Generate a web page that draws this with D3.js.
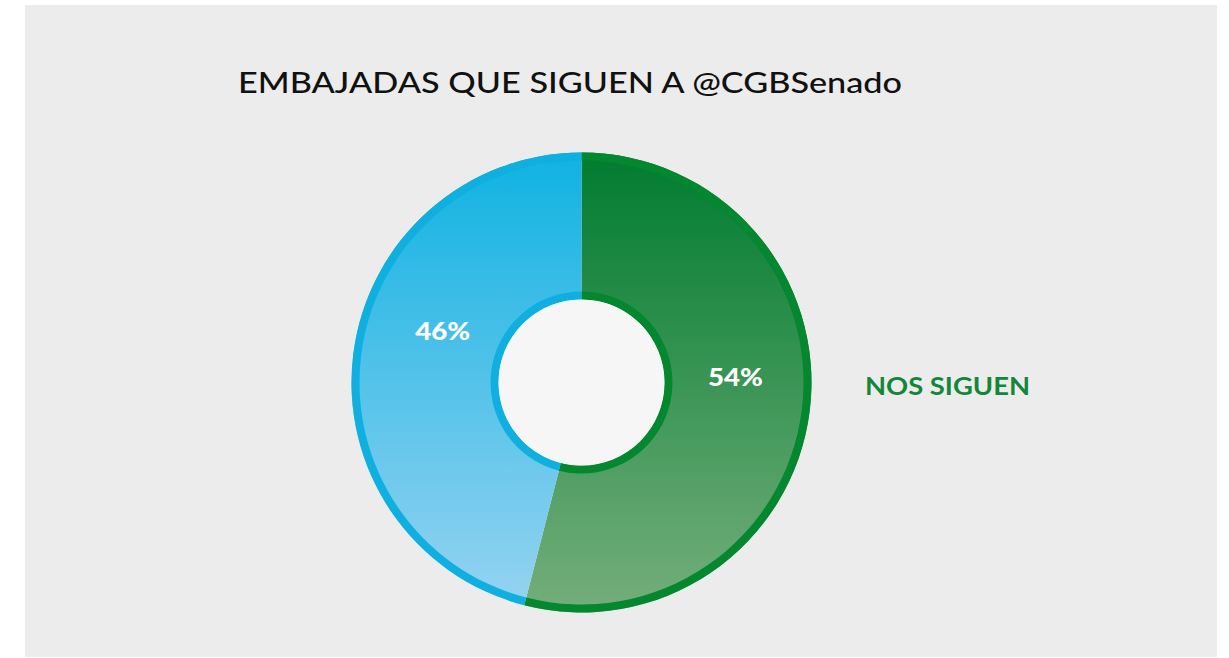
<!DOCTYPE html>
<html>
<head>
<meta charset="utf-8">
<script src="https://cdn.jsdelivr.net/npm/d3@7"></script>
<style>
  html, body { margin: 0; padding: 0; background: #ffffff; }
  svg { display: block; }
</style>
</head>
<body>
<svg id="chart" width="1229" height="658"></svg>
<script>
// ---- data ----
const categories = ["NO NOS SIGUEN", "NOS SIGUEN"];
const values = [46, 54];
const valueLabels = ["46%", "54%"];
const legendLabels = ["NOS SIGUEN"];
const titleText = "EMBAJADAS QUE SIGUEN A @CGBSenado";

// ---- styles ----
const cx = 581.5, cy = 382.5;
const R = 230, Rin = 83, band = 8;
const topColors = ["#10b2e2", "#007c30"];
const bottomColors = ["#98d3f1", "#75ae7b"];
const borderColors = ["#0fb0e0", "#03872f"];
const labelAngleNudge = [0.23, -0.16]; // radians
const labelRadius = [148, 154];

const svg = d3.select("#chart");

// panel
svg.append("rect").attr("x", 25).attr("y", 5).attr("width", 1192).attr("height", 652)
  .attr("fill", "#ececec");

const defs = svg.append("defs");
categories.forEach((c, i) => {
  const gl = defs.append("linearGradient").attr("id", "grad" + i)
    .attr("gradientUnits", "userSpaceOnUse")
    .attr("x1", 0).attr("y1", -R).attr("x2", 0).attr("y2", R);
  gl.append("stop").attr("offset", "0%").attr("stop-color", topColors[i]);
  gl.append("stop").attr("offset", "100%").attr("stop-color", bottomColors[i]);
});

// title
svg.append("text").attr("x", 238).attr("y", 93)
  .attr("font-family", "Lato, 'Open Sans', sans-serif")
  .attr("font-size", 29).attr("font-weight", 500)
  .attr("fill", "#111")
  .attr("textLength", 664).attr("lengthAdjust", "spacingAndGlyphs")
  .text(titleText);

// pie: green (NOS SIGUEN) starts at top clockwise, blue fills the rest
const order = [1, 0];
const pie = d3.pie().sort(null).value(d => values[d]);
const arcsData = pie(order);

const g = svg.append("g").attr("transform", `translate(${cx},${cy})`);

const fillArc = d3.arc().innerRadius(Rin).outerRadius(R);
const outerBand = d3.arc().innerRadius(R - band).outerRadius(R);
const innerBand = d3.arc().innerRadius(Rin).outerRadius(Rin + band);

g.selectAll("path.fill").data(arcsData).enter().append("path")
  .attr("class", "fill")
  .attr("d", fillArc)
  .attr("fill", d => `url(#grad${d.data})`);

g.selectAll("path.ob").data(arcsData).enter().append("path")
  .attr("class", "ob")
  .attr("d", outerBand).attr("fill", d => borderColors[d.data]);
g.selectAll("path.ib").data(arcsData).enter().append("path")
  .attr("class", "ib")
  .attr("d", innerBand).attr("fill", d => borderColors[d.data]);

// hole
g.append("circle").attr("r", Rin).attr("fill", "#f6f6f6");

// value labels
const labelPos = d => {
  const a = (d.startAngle + d.endAngle) / 2 + labelAngleNudge[d.data];
  return [labelRadius[d.data] * Math.sin(a), -labelRadius[d.data] * Math.cos(a)];
};
g.selectAll("text.val").data(arcsData).enter().append("text")
  .attr("class", "val")
  .attr("x", d => labelPos(d)[0])
  .attr("y", d => labelPos(d)[1])
  .attr("dy", "0.35em")
  .attr("text-anchor", "middle")
  .attr("font-family", "Lato, 'Open Sans', sans-serif")
  .attr("font-size", 25).attr("font-weight", 900)
  .attr("fill", "#ffffff")
  .attr("textLength", 55).attr("lengthAdjust", "spacingAndGlyphs")
  .text(d => valueLabels[d.data]);

// legend label
svg.append("text").attr("x", 865).attr("y", 395)
  .attr("font-family", "Lato, 'Open Sans', sans-serif")
  .attr("font-size", 24).attr("font-weight", 700)
  .attr("fill", "#13863a")
  .attr("textLength", 165).attr("lengthAdjust", "spacingAndGlyphs")
  .text(legendLabels[0]);
</script>
</body>
</html>
